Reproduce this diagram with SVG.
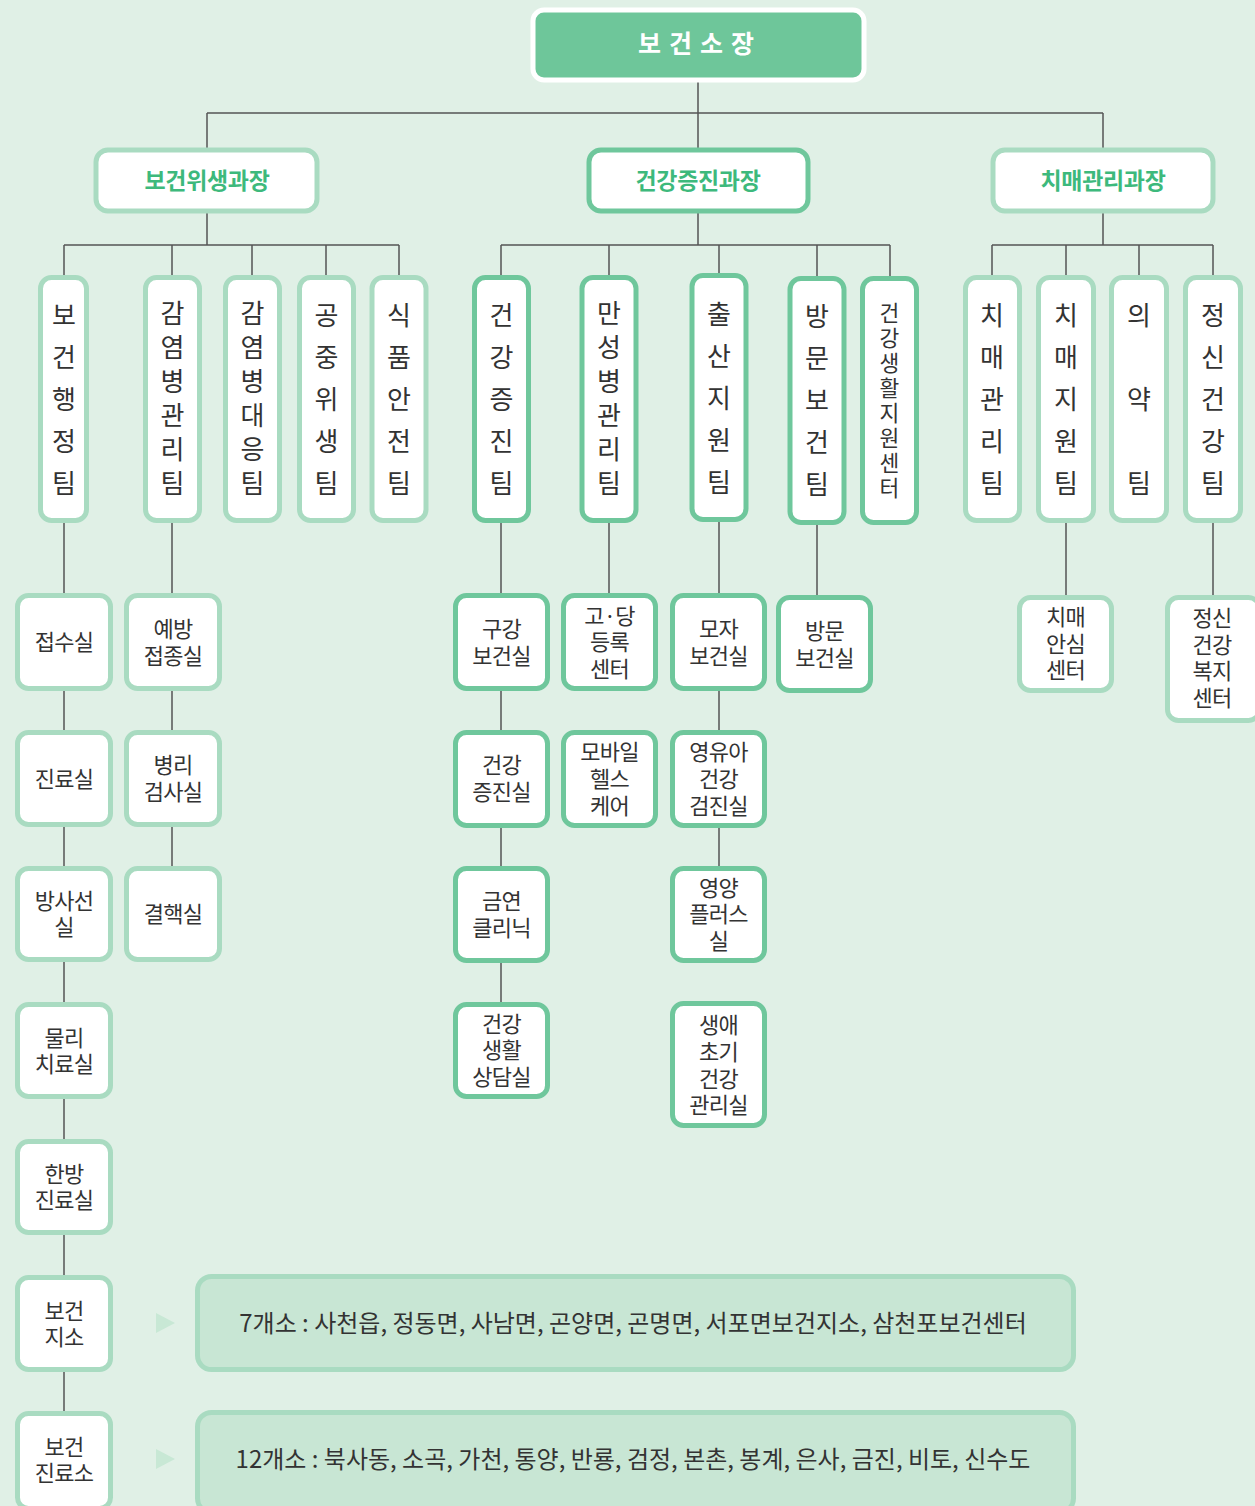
<svg xmlns="http://www.w3.org/2000/svg" width="1255" height="1506" viewBox="0 0 1255 1506">
<style>
.t{font-family:"Noto Sans CJK KR","Noto Sans",sans-serif;fill:#333;}
.bx{fill:#fff;stroke-width:5;}
.lt{stroke:#a9dbc1;}
.dk{stroke:#6fc79c;}
.team{font-size:26px;text-anchor:middle;}
.team8{font-size:21.5px;text-anchor:middle;}
.room{font-size:22px;text-anchor:middle;letter-spacing:-0.8px;}
.head{font-family:"Noto Sans CJK KR","Noto Sans",sans-serif;font-size:23px;font-weight:bold;fill:#3db97c;text-anchor:middle;letter-spacing:-0.3px;}
.wide{fill:#c8e6d4;stroke:#a9dbc1;stroke-width:5;}
.wt{font-size:24px;text-anchor:middle;letter-spacing:0px;}
.ln{stroke:#555;stroke-width:1.5;fill:none;}
</style>
<rect width="1255" height="1506" fill="#e0f0e6"/>
<g id="connectors">
<line class="ln" x1="698" y1="80" x2="698" y2="150"/>
<line class="ln" x1="207" y1="113" x2="1103" y2="113"/>
<line class="ln" x1="207" y1="113" x2="207" y2="150"/>
<line class="ln" x1="1103" y1="113" x2="1103" y2="150"/>
<line class="ln" x1="207" y1="211" x2="207" y2="245"/>
<line class="ln" x1="698" y1="211" x2="698" y2="245"/>
<line class="ln" x1="1103" y1="211" x2="1103" y2="245"/>
<line class="ln" x1="64" y1="245" x2="399" y2="245"/>
<line class="ln" x1="501" y1="245" x2="890" y2="245"/>
<line class="ln" x1="992" y1="245" x2="1213" y2="245"/>
<line class="ln" x1="64" y1="245" x2="64" y2="1412"/>
<line class="ln" x1="172" y1="245" x2="172" y2="868"/>
<line class="ln" x1="252" y1="245" x2="252" y2="280"/>
<line class="ln" x1="326" y1="245" x2="326" y2="280"/>
<line class="ln" x1="399" y1="245" x2="399" y2="280"/>
<line class="ln" x1="501" y1="245" x2="501" y2="1004"/>
<line class="ln" x1="609" y1="245" x2="609" y2="596"/>
<line class="ln" x1="719" y1="245" x2="719" y2="868"/>
<line class="ln" x1="817" y1="245" x2="817" y2="598"/>
<line class="ln" x1="890" y1="245" x2="890" y2="280"/>
<line class="ln" x1="992" y1="245" x2="992" y2="280"/>
<line class="ln" x1="1066" y1="245" x2="1066" y2="598"/>
<line class="ln" x1="1139" y1="245" x2="1139" y2="280"/>
<line class="ln" x1="1213" y1="245" x2="1213" y2="598"/>
<polygon points="156,1313 175,1323 156,1333" fill="#c8e8d5"/>
<polygon points="156,1449 175,1459 156,1469" fill="#c8e8d5"/>
</g>
<g id="director">
<rect x="533" y="10" width="331" height="70" rx="11" fill="#6ec69a" stroke="#fff" stroke-width="5"/>
<text x="700" y="53" font-family="Noto Sans CJK KR,Noto Sans,sans-serif" font-size="25" font-weight="bold" fill="#fff" text-anchor="middle" letter-spacing="8">보건소장</text>
</g>
<g id="dept1"><rect class="bx lt" x="96" y="150" width="221" height="61" rx="12"/><text class="head" x="207" y="189">보건위생과장</text></g>
<g id="dept2"><rect class="bx dk" x="589" y="150" width="219" height="61" rx="12"/><text class="head" x="698" y="189">건강증진과장</text></g>
<g id="dept3"><rect class="bx lt" x="993" y="150" width="220" height="61" rx="12"/><text class="head" x="1103" y="189">치매관리과장</text></g>

<g id="team-a1"><rect class="bx lt" x="40.5" y="277.5" width="46" height="243" rx="11"/><text class="t team" x="64"><tspan x="64" y="325">보</tspan><tspan x="64" y="367">건</tspan><tspan x="64" y="409">행</tspan><tspan x="64" y="451">정</tspan><tspan x="64" y="493">팀</tspan></text></g>
<g id="team-a2"><rect class="bx lt" x="145.5" y="277.5" width="54" height="243" rx="11"/><text class="t team" x="172.5"><tspan x="172.5" y="323">감</tspan><tspan x="172.5" y="357">염</tspan><tspan x="172.5" y="391">병</tspan><tspan x="172.5" y="425">관</tspan><tspan x="172.5" y="459">리</tspan><tspan x="172.5" y="493">팀</tspan></text></g>
<g id="team-a3"><rect class="bx lt" x="225.5" y="277.5" width="54" height="243" rx="11"/><text class="t team" x="252.5"><tspan x="252.5" y="323">감</tspan><tspan x="252.5" y="357">염</tspan><tspan x="252.5" y="391">병</tspan><tspan x="252.5" y="425">대</tspan><tspan x="252.5" y="459">응</tspan><tspan x="252.5" y="493">팀</tspan></text></g>
<g id="team-a4"><rect class="bx lt" x="299.5" y="277.5" width="54" height="243" rx="11"/><text class="t team" x="326.5"><tspan x="326.5" y="325">공</tspan><tspan x="326.5" y="367">중</tspan><tspan x="326.5" y="409">위</tspan><tspan x="326.5" y="451">생</tspan><tspan x="326.5" y="493">팀</tspan></text></g>
<g id="team-a5"><rect class="bx lt" x="372" y="277.5" width="54" height="243" rx="11"/><text class="t team" x="399"><tspan x="399" y="325">식</tspan><tspan x="399" y="367">품</tspan><tspan x="399" y="409">안</tspan><tspan x="399" y="451">전</tspan><tspan x="399" y="493">팀</tspan></text></g>

<g id="team-b1"><rect class="bx dk" x="474.5" y="277.5" width="54" height="243" rx="11"/><text class="t team" x="501.5"><tspan x="501.5" y="325">건</tspan><tspan x="501.5" y="367">강</tspan><tspan x="501.5" y="409">증</tspan><tspan x="501.5" y="451">진</tspan><tspan x="501.5" y="493">팀</tspan></text></g>
<g id="team-b2"><rect class="bx dk" x="582" y="277.5" width="54" height="243" rx="11"/><text class="t team" x="609"><tspan x="609" y="323">만</tspan><tspan x="609" y="357">성</tspan><tspan x="609" y="391">병</tspan><tspan x="609" y="425">관</tspan><tspan x="609" y="459">리</tspan><tspan x="609" y="493">팀</tspan></text></g>
<g id="team-b3"><rect class="bx dk" x="692" y="275.5" width="54" height="244" rx="11"/><text class="t team" x="719"><tspan x="719" y="324">출</tspan><tspan x="719" y="366">산</tspan><tspan x="719" y="408">지</tspan><tspan x="719" y="450">원</tspan><tspan x="719" y="492">팀</tspan></text></g>
<g id="team-b4"><rect class="bx dk" x="790" y="278.5" width="54" height="244" rx="11"/><text class="t team" x="817"><tspan x="817" y="326">방</tspan><tspan x="817" y="368">문</tspan><tspan x="817" y="410">보</tspan><tspan x="817" y="452">건</tspan><tspan x="817" y="494">팀</tspan></text></g>
<g id="team-b5"><rect class="bx dk" x="862.5" y="278.5" width="54" height="244" rx="11"/><text class="t team8" x="889.5"><tspan x="889.5" y="321">건</tspan><tspan x="889.5" y="346">강</tspan><tspan x="889.5" y="371">생</tspan><tspan x="889.5" y="396">활</tspan><tspan x="889.5" y="421">지</tspan><tspan x="889.5" y="446">원</tspan><tspan x="889.5" y="471">센</tspan><tspan x="889.5" y="496">터</tspan></text></g>

<g id="team-c1"><rect class="bx lt" x="965.5" y="277.5" width="54" height="243" rx="11"/><text class="t team" x="992"><tspan x="992" y="325">치</tspan><tspan x="992" y="367">매</tspan><tspan x="992" y="409">관</tspan><tspan x="992" y="451">리</tspan><tspan x="992" y="493">팀</tspan></text></g>
<g id="team-c2"><rect class="bx lt" x="1038.5" y="277.5" width="55" height="243" rx="11"/><text class="t team" x="1066"><tspan x="1066" y="325">치</tspan><tspan x="1066" y="367">매</tspan><tspan x="1066" y="409">지</tspan><tspan x="1066" y="451">원</tspan><tspan x="1066" y="493">팀</tspan></text></g>
<g id="team-c3"><rect class="bx lt" x="1111.5" y="277.5" width="55" height="243" rx="11"/><text class="t team" x="1139"><tspan x="1139" y="325">의</tspan><tspan x="1139" y="409">약</tspan><tspan x="1139" y="493">팀</tspan></text></g>
<g id="team-c4"><rect class="bx lt" x="1185.5" y="277.5" width="55" height="243" rx="11"/><text class="t team" x="1213"><tspan x="1213" y="325">정</tspan><tspan x="1213" y="367">신</tspan><tspan x="1213" y="409">건</tspan><tspan x="1213" y="451">강</tspan><tspan x="1213" y="493">팀</tspan></text></g>

<g id="room-a1"><rect class="bx lt" x="17.5" y="595.5" width="93" height="93" rx="11"/><text class="t room" x="64" y="650">접수실</text></g>
<g id="room-a2"><rect class="bx lt" x="17.5" y="732.5" width="93" height="92" rx="11"/><text class="t room" x="64" y="787">진료실</text></g>
<g id="room-a3"><rect class="bx lt" x="17.5" y="868.5" width="93" height="91" rx="11"/><text class="t room" x="64"><tspan x="64" y="909">방사선</tspan><tspan x="64" y="935">실</tspan></text></g>
<g id="room-a4"><rect class="bx lt" x="17.5" y="1004.5" width="93" height="92" rx="11"/><text class="t room" x="64"><tspan x="64" y="1046">물리</tspan><tspan x="64" y="1072">치료실</tspan></text></g>
<g id="room-a5"><rect class="bx lt" x="17.5" y="1141.5" width="93" height="91" rx="11"/><text class="t room" x="64"><tspan x="64" y="1182">한방</tspan><tspan x="64" y="1208">진료실</tspan></text></g>
<g id="room-a6"><rect class="bx lt" x="17.5" y="1277.5" width="93" height="92" rx="11"/><text class="t room" x="64"><tspan x="64" y="1319">보건</tspan><tspan x="64" y="1345">지소</tspan></text></g>
<g id="room-a7"><rect class="bx lt" x="17.5" y="1413.5" width="93" height="95" rx="11"/><text class="t room" x="64"><tspan x="64" y="1455">보건</tspan><tspan x="64" y="1481">진료소</tspan></text></g>

<g id="room-b1"><rect class="bx lt" x="126.5" y="595.5" width="93" height="93" rx="11"/><text class="t room" x="173"><tspan x="173" y="637">예방</tspan><tspan x="173" y="664">접종실</tspan></text></g>
<g id="room-b2"><rect class="bx lt" x="126.5" y="732.5" width="93" height="92" rx="11"/><text class="t room" x="173"><tspan x="173" y="773">병리</tspan><tspan x="173" y="800">검사실</tspan></text></g>
<g id="room-b3"><rect class="bx lt" x="126.5" y="868.5" width="93" height="91" rx="11"/><text class="t room" x="173" y="922">결핵실</text></g>

<g id="room-c1"><rect class="bx dk" x="455.5" y="595.5" width="92" height="93" rx="11"/><text class="t room" x="501.5"><tspan x="501.5" y="637">구강</tspan><tspan x="501.5" y="664">보건실</tspan></text></g>
<g id="room-c2"><rect class="bx dk" x="455.5" y="732.5" width="92" height="93" rx="11"/><text class="t room" x="501.5"><tspan x="501.5" y="773">건강</tspan><tspan x="501.5" y="800">증진실</tspan></text></g>
<g id="room-c3"><rect class="bx dk" x="455.5" y="868.5" width="92" height="92" rx="11"/><text class="t room" x="501.5"><tspan x="501.5" y="909">금연</tspan><tspan x="501.5" y="936">클리닉</tspan></text></g>
<g id="room-c4"><rect class="bx dk" x="455.5" y="1004.5" width="92" height="92" rx="11"/><text class="t room" x="501.5"><tspan x="501.5" y="1032">건강</tspan><tspan x="501.5" y="1058">생활</tspan><tspan x="501.5" y="1085">상담실</tspan></text></g>

<g id="room-d1"><rect class="bx dk" x="563.5" y="595.5" width="92" height="93" rx="11"/><text class="t room" x="609.5"><tspan x="609.5" y="624">고·당</tspan><tspan x="609.5" y="650">등록</tspan><tspan x="609.5" y="677">센터</tspan></text></g>
<g id="room-d2"><rect class="bx dk" x="563.5" y="732.5" width="92" height="93" rx="11"/><text class="t room" x="609.5"><tspan x="609.5" y="760">모바일</tspan><tspan x="609.5" y="787">헬스</tspan><tspan x="609.5" y="814">케어</tspan></text></g>

<g id="room-e1"><rect class="bx dk" x="672.5" y="595.5" width="92" height="93" rx="11"/><text class="t room" x="718.5"><tspan x="718.5" y="637">모자</tspan><tspan x="718.5" y="664">보건실</tspan></text></g>
<g id="room-e2"><rect class="bx dk" x="672.5" y="732.5" width="92" height="93" rx="11"/><text class="t room" x="718.5"><tspan x="718.5" y="760">영유아</tspan><tspan x="718.5" y="787">건강</tspan><tspan x="718.5" y="814">검진실</tspan></text></g>
<g id="room-e3"><rect class="bx dk" x="672.5" y="868.5" width="92" height="92" rx="11"/><text class="t room" x="718.5"><tspan x="718.5" y="896">영양</tspan><tspan x="718.5" y="922">플러스</tspan><tspan x="718.5" y="949">실</tspan></text></g>
<g id="room-e4"><rect class="bx dk" x="672.5" y="1003.5" width="92" height="122" rx="11"/><text class="t room" x="718.5"><tspan x="718.5" y="1033">생애</tspan><tspan x="718.5" y="1060">초기</tspan><tspan x="718.5" y="1087">건강</tspan><tspan x="718.5" y="1113">관리실</tspan></text></g>

<g id="room-f1"><rect class="bx dk" x="778.5" y="597.5" width="92" height="93" rx="11"/><text class="t room" x="824.5"><tspan x="824.5" y="639">방문</tspan><tspan x="824.5" y="666">보건실</tspan></text></g>
<g id="room-g1"><rect class="bx lt" x="1019.5" y="597.5" width="92" height="93" rx="11"/><text class="t room" x="1065.5"><tspan x="1065.5" y="625">치매</tspan><tspan x="1065.5" y="652">안심</tspan><tspan x="1065.5" y="678">센터</tspan></text></g>
<g id="room-h1"><rect class="bx lt" x="1167.5" y="597.5" width="92" height="123" rx="11"/><text class="t room" x="1212"><tspan x="1212" y="626">정신</tspan><tspan x="1212" y="653">건강</tspan><tspan x="1212" y="679">복지</tspan><tspan x="1212" y="706">센터</tspan></text></g>

<g id="branch1"><rect class="wide" x="197.5" y="1276.5" width="876" height="93" rx="14"/><text class="t wt" x="633" y="1332">7개소 : 사천읍, 정동면, 사남면, 곤양면, 곤명면, 서포면보건지소, 삼천포보건센터</text></g>
<g id="branch2"><rect class="wide" x="197.5" y="1412.5" width="876" height="100" rx="14"/><text class="t wt" x="633" y="1468">12개소 : 북사동, 소곡, 가천, 통양, 반룡, 검정, 본촌, 봉계, 은사, 금진, 비토, 신수도</text></g>
</svg>
